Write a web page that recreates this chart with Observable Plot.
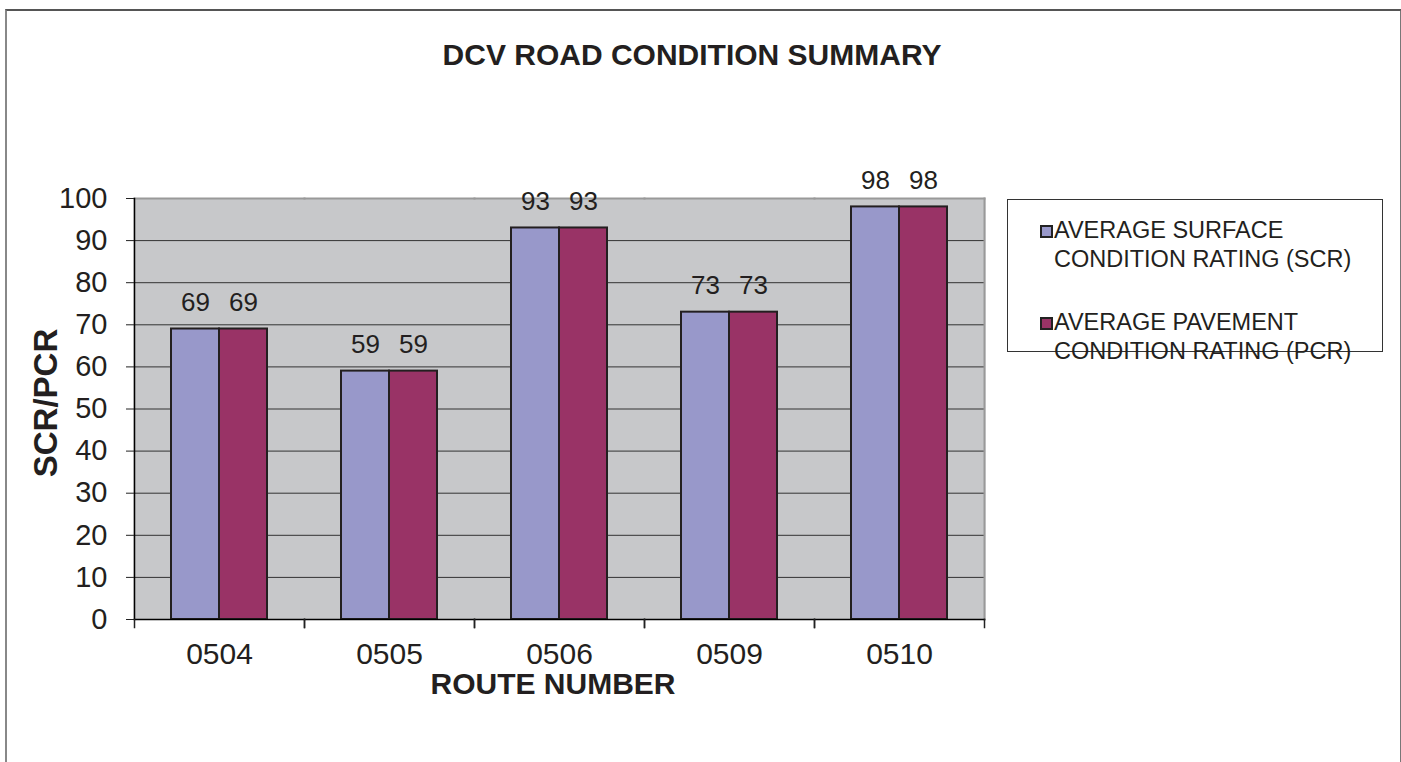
<!DOCTYPE html>
<html>
<head>
<meta charset="utf-8">
<script src="https://cdn.jsdelivr.net/npm/d3@7"></script>
<script src="https://cdn.jsdelivr.net/npm/@observablehq/plot@0.6"></script>
<style>
  html, body { margin: 0; padding: 0; background: #fff; }
  body { width: 1401px; height: 762px; position: relative; overflow: hidden; font-family: "Liberation Sans", Arial, sans-serif; color: #231f20; }
  #frame { position: absolute; left: 5px; top: 9px; width: 1393px; height: 800px; border-left: 2px solid #888; border-top: 2px solid #555; border-right: 2px solid #777; }
  #chart { position: absolute; left: 0; top: 0; }
  .title { position: absolute; font-weight: bold; white-space: nowrap; transform: translate(-50%, -50%); }
  #legend { position: absolute; left: 1007px; top: 199px; width: 376px; height: 153px; border: 1px solid #333; background: #fff; box-sizing: border-box; font-size: 23.5px; }
  .item { position: absolute; left: 46px; line-height: 29px; }
  .sw { position: absolute; left: -14px; top: 9px; width: 9px; height: 9px; border: 2px solid #222; }
</style>
</head>
<body>
<div id="frame"></div>
<div id="chart"></div>
<div class="title" style="left:692px;top:55px;font-size:30px;">DCV ROAD CONDITION SUMMARY</div>
<div class="title" style="left:553px;top:684px;font-size:30px;">ROUTE NUMBER</div>
<div class="title" style="left:46px;top:403px;font-size:33px;transform:translate(-50%,-50%) rotate(-90deg);">SCR/PCR</div>
<div id="legend"></div>
<script>
const routes = ["0504", "0505", "0506", "0509", "0510"];
const scrValues = [69, 59, 93, 73, 98];
const pcrValues = [69, 59, 93, 73, 98];
const seriesKeys = ["SCR", "PCR"];
const seriesLabels = [
  ["AVERAGE SURFACE", "CONDITION RATING (SCR)"],
  ["AVERAGE PAVEMENT", "CONDITION RATING (PCR)"]
];
const seriesColors = ["#9898ca", "#993366"];
const yTicks = [0, 10, 20, 30, 40, 50, 60, 70, 80, 90, 100];

const data = routes.flatMap((r, i) => [
  {route: r, series: "SCR", value: scrValues[i]},
  {route: r, series: "PCR", value: pcrValues[i]}
]);

const W = 1401, H = 762;
const mT = 198, mB = 143, mL = 133, mR = 417;
const plotH = H - mT - mB;

const chart = Plot.plot({
  width: W, height: H,
  marginTop: mT, marginBottom: mB, marginLeft: mL, marginRight: mR,
  style: {fontFamily: "'Liberation Sans', Arial, sans-serif", color: "#231f20", background: "transparent"},
  fx: {domain: routes, padding: 0, label: null},
  x: {domain: seriesKeys, paddingInner: 0, paddingOuter: 0.75, axis: null},
  y: {domain: [0, 100], label: null},
  color: {domain: seriesKeys, range: seriesColors},
  marks: [
    Plot.frame({fill: "#c7c8ca", insetLeft: -1, insetRight: -1}),
    Plot.gridY(yTicks.filter(t => t > 0 && t < 100), {stroke: "#333", strokeOpacity: 1, strokeWidth: 1}),
    Plot.frame({anchor: "top", stroke: "#999", strokeWidth: 2}),
    Plot.frame({anchor: "right", facetAnchor: "right", stroke: "#999", strokeWidth: 2}),
    Plot.barY(data, {fx: "route", x: "series", y: "value", fill: "series", stroke: "#231f20", strokeWidth: 2}),
    Plot.text(data, {fx: "route", x: "series", y: "value", text: d => String(d.value), dy: -26, fontSize: 26, fill: "#231f20"}),
    Plot.frame({anchor: "bottom", stroke: "#000", strokeWidth: 1.5}),
    Plot.frame({anchor: "left", facetAnchor: "left", stroke: "#000", strokeWidth: 1.5}),
    Plot.frame({anchor: "left", insetTop: plotH, insetBottom: -8, stroke: "#222", strokeWidth: 1.5}),
    Plot.frame({anchor: "right", insetTop: plotH, insetBottom: -8, stroke: "#222", strokeWidth: 1.5}),
    Plot.axisY(yTicks, {anchor: "left", tickSize: 8, tickPadding: 19, fontSize: 29, stroke: "#222", label: null}),
    Plot.axisFx({anchor: "bottom", tickSize: 0, tickPadding: 23, fontSize: 30, label: null})
  ]
});
document.getElementById("chart").append(chart);

const legend = document.getElementById("legend");
const tops = [16, 108];
seriesKeys.forEach((k, i) => {
  const div = document.createElement("div");
  div.className = "item";
  div.style.top = tops[i] + "px";
  const sw = document.createElement("span");
  sw.className = "sw";
  sw.style.background = seriesColors[i];
  div.append(sw);
  seriesLabels[i].forEach((line, j) => {
    const l = document.createElement("div");
    l.textContent = line;
    div.append(l);
  });
  legend.append(div);
});
</script>
</body>
</html>
